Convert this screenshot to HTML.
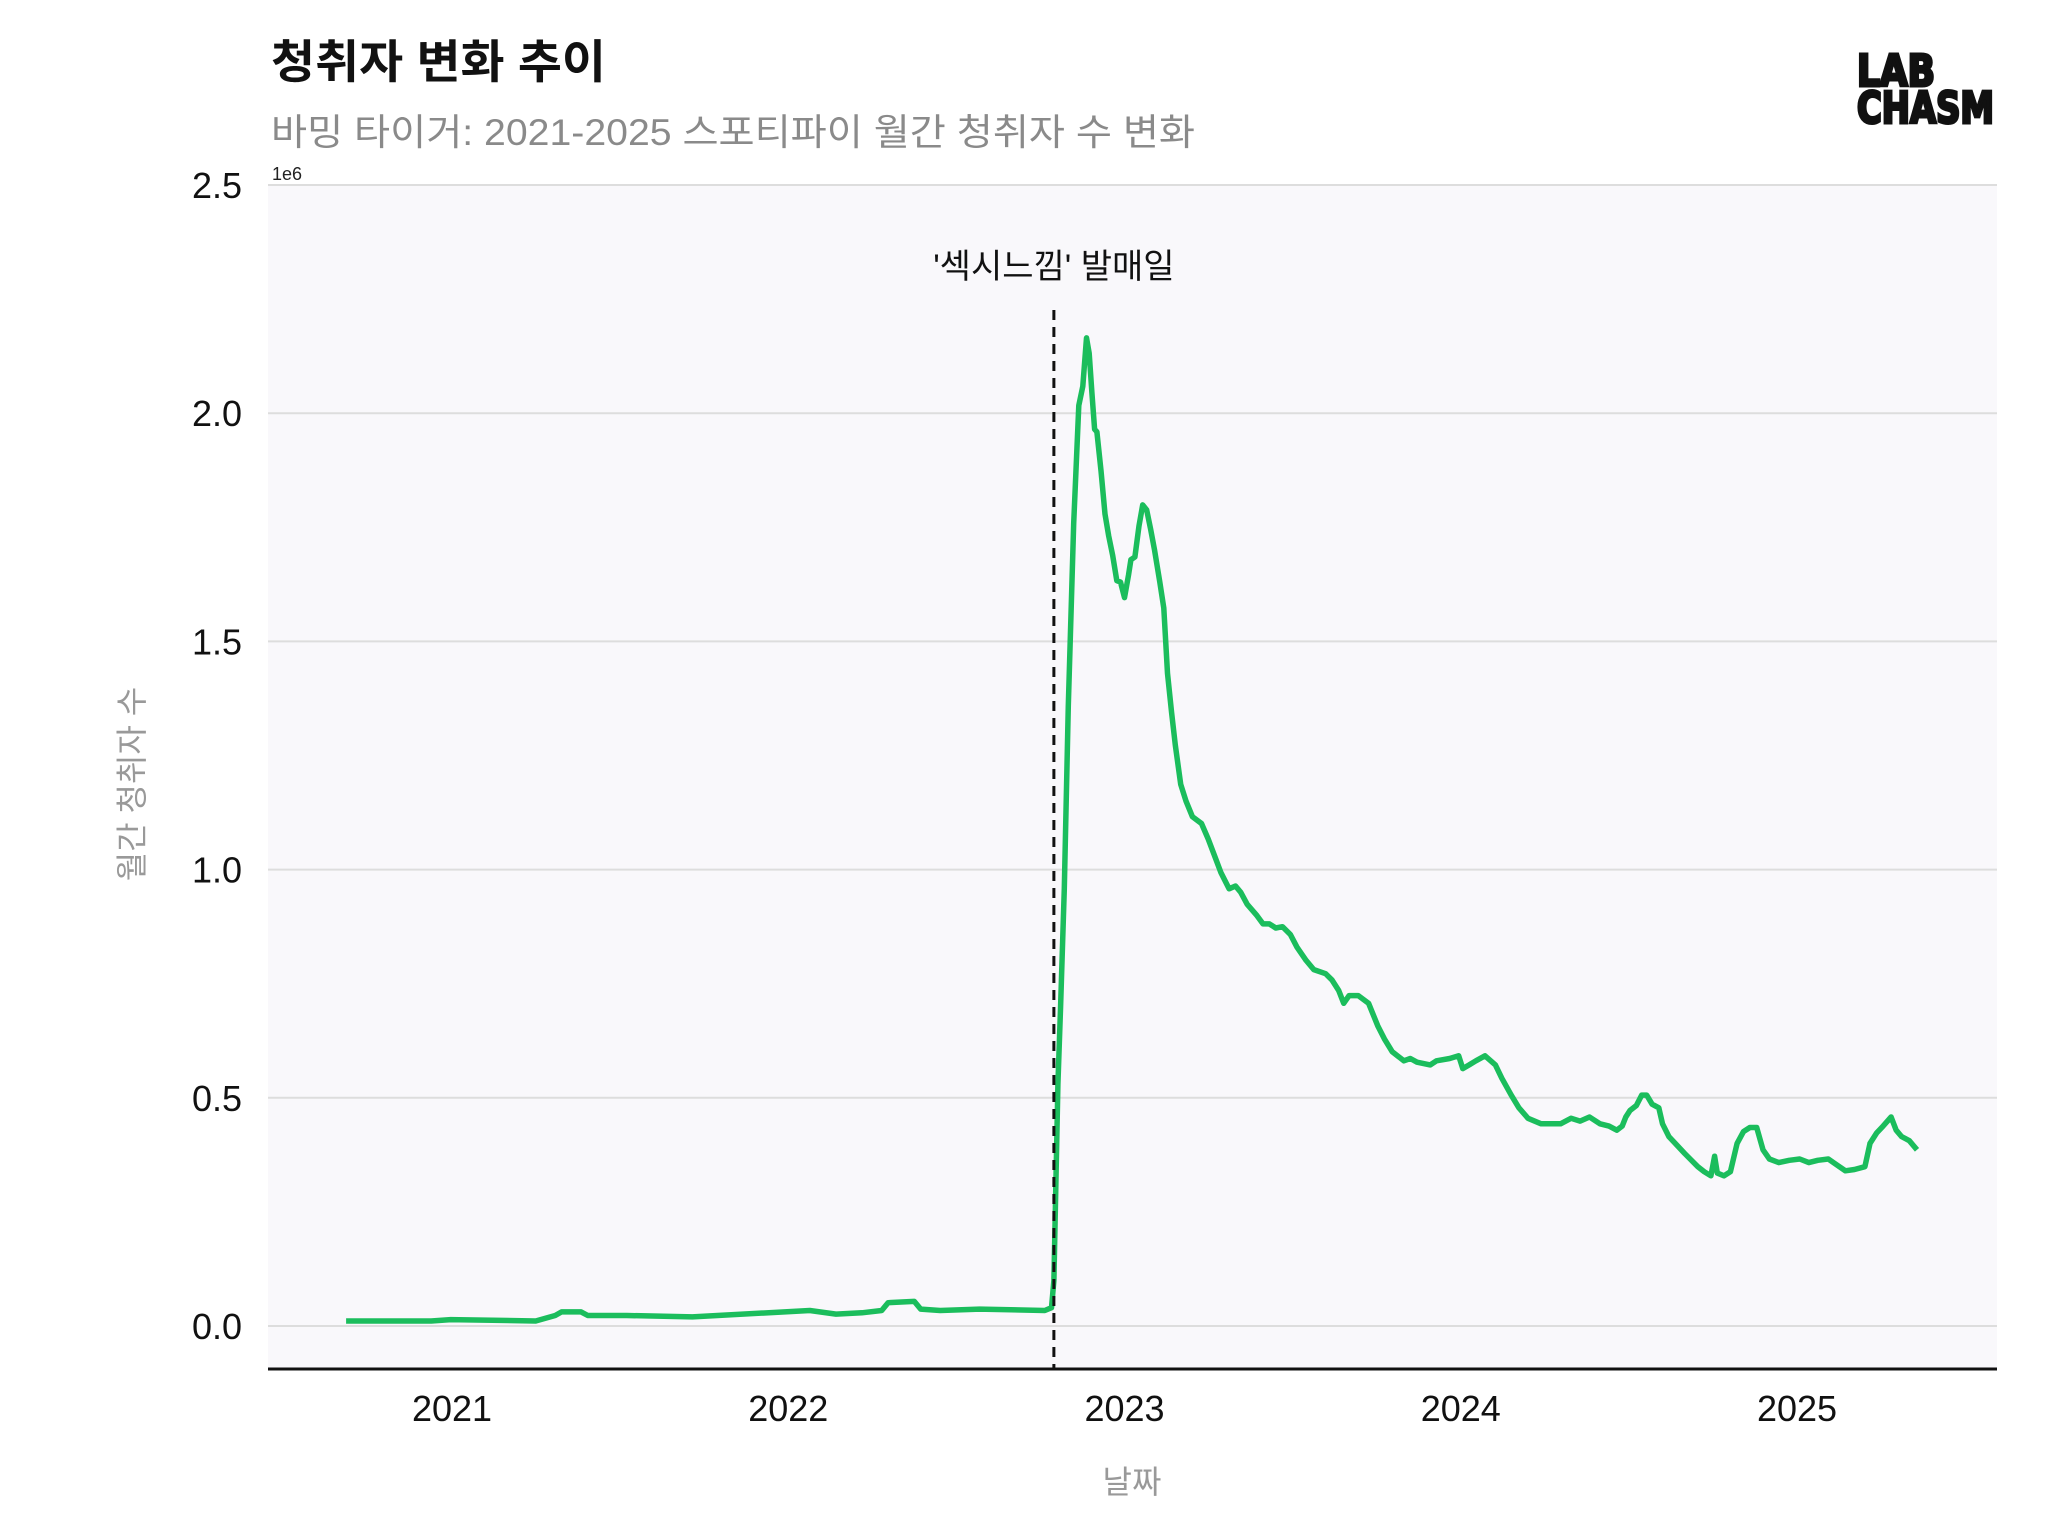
<!DOCTYPE html>
<html><head><meta charset="utf-8"><style>
html,body{margin:0;padding:0;background:#fff;}
svg{display:block;font-family:"Liberation Sans","Noto Sans CJK KR",sans-serif;}
</style></head><body>
<svg id="chart" width="2048" height="1536" viewBox="0 0 2048 1536">
<text x="271" y="78" font-size="46" font-weight="bold" fill="#111" textLength="335" lengthAdjust="spacingAndGlyphs">청취자 변화 추이</text>
<text x="271" y="145" font-size="37" fill="#8a8a8a" textLength="924" lengthAdjust="spacingAndGlyphs">바밍 타이거: 2021-2025 스포티파이 월간 청취자 수 변화</text>
<g font-weight="900" fill="#111" stroke="#111" stroke-width="3" font-family="'DejaVu Sans Condensed','DejaVu Sans',sans-serif">
<text x="1857" y="86" font-size="44" textLength="78" lengthAdjust="spacingAndGlyphs">LAB</text>
<text x="1857" y="123" font-size="44" textLength="137" lengthAdjust="spacingAndGlyphs">CHASM</text>
</g>
<rect x="268" y="185" width="1729" height="1184" fill="#f9f8fb"/>
<g id="grid"></g>
<g id="yticks"></g>
<g id="xticks"></g>
<text x="272" y="180" font-size="18" fill="#222">1e6</text>
<line x1="268" y1="1369" x2="1997" y2="1369" stroke="#111" stroke-width="3"/>
<path id="series" fill="none" stroke="#1bbd5c" stroke-width="5.5" stroke-linejoin="round"/>
<line id="release" y1="310" y2="1369" stroke="#111" stroke-width="3" stroke-dasharray="10,7"/>
<text id="releaseLabel" y="278" font-size="34" fill="#111" text-anchor="middle">'섹시느낌' 발매일</text>
<text x="143" y="784" font-size="32" fill="#999" text-anchor="middle" transform="rotate(-90 143 784)">월간 청취자 수</text>
<text x="1132" y="1493" font-size="32" fill="#999" text-anchor="middle">날짜</text>
</svg>
<script>
const yTicks=[0,0.5,1.0,1.5,2.0,2.5];
const yTickLabels=["0.0","0.5","1.0","1.5","2.0","2.5"];
const xTicks=[2021,2022,2023,2024,2025];
const releaseDate=2022.79;
const dates=[2020.685,2020.938,2020.996,2021.249,2021.307,2021.326,2021.384,2021.404,2021.520,2021.715,2022.064,2022.142,2022.219,2022.278,2022.297,2022.375,2022.394,2022.452,2022.569,2022.763,2022.783,2022.790,2022.802,2022.810,2022.821,2022.833,2022.849,2022.864,2022.876,2022.887,2022.895,2022.903,2022.911,2022.918,2022.930,2022.942,2022.953,2022.965,2022.977,2022.988,2023.000,2023.012,2023.019,2023.031,2023.043,2023.054,2023.066,2023.078,2023.089,2023.105,2023.117,2023.128,2023.140,2023.151,2023.167,2023.183,2023.202,2023.229,2023.249,2023.268,2023.287,2023.311,2023.330,2023.346,2023.365,2023.392,2023.412,2023.431,2023.450,2023.470,2023.493,2023.513,2023.540,2023.563,2023.598,2023.617,2023.637,2023.652,2023.668,2023.695,2023.726,2023.753,2023.773,2023.796,2023.831,2023.850,2023.870,2023.909,2023.928,2023.967,2023.994,2024.006,2024.025,2024.045,2024.072,2024.103,2024.122,2024.150,2024.173,2024.200,2024.239,2024.297,2024.328,2024.355,2024.383,2024.414,2024.441,2024.464,2024.480,2024.491,2024.503,2024.522,2024.538,2024.553,2024.569,2024.589,2024.600,2024.619,2024.666,2024.705,2024.724,2024.744,2024.755,2024.763,2024.783,2024.802,2024.822,2024.841,2024.860,2024.880,2024.899,2024.918,2024.946,2024.977,2025.008,2025.035,2025.062,2025.093,2025.120,2025.144,2025.171,2025.202,2025.217,2025.237,2025.256,2025.280,2025.295,2025.311,2025.334,2025.357];
const listeners=[0.011,0.011,0.014,0.011,0.023,0.031,0.031,0.023,0.023,0.020,0.034,0.026,0.029,0.034,0.051,0.054,0.037,0.034,0.037,0.034,0.040,0.100,0.529,0.701,0.958,1.359,1.759,2.017,2.059,2.165,2.131,2.045,1.965,1.959,1.874,1.779,1.731,1.688,1.633,1.630,1.596,1.645,1.679,1.685,1.753,1.799,1.788,1.745,1.702,1.630,1.573,1.430,1.344,1.273,1.187,1.150,1.116,1.101,1.067,1.030,0.993,0.958,0.964,0.950,0.924,0.901,0.881,0.881,0.872,0.875,0.858,0.830,0.801,0.781,0.772,0.758,0.735,0.707,0.724,0.724,0.707,0.658,0.629,0.601,0.581,0.586,0.578,0.572,0.581,0.586,0.592,0.564,0.572,0.581,0.592,0.572,0.543,0.506,0.478,0.455,0.443,0.443,0.455,0.449,0.458,0.443,0.438,0.429,0.438,0.458,0.472,0.483,0.506,0.506,0.486,0.478,0.443,0.415,0.378,0.349,0.338,0.329,0.372,0.335,0.329,0.338,0.400,0.426,0.435,0.435,0.386,0.366,0.358,0.363,0.366,0.358,0.363,0.366,0.352,0.340,0.343,0.349,0.400,0.423,0.438,0.458,0.429,0.415,0.406,0.386];
const NS="http://www.w3.org/2000/svg";
function xScale(t){return 452+(t-2021)*336.25;}
function yScale(v){return 1326-v*456.4;}
const grid=document.getElementById('grid'),yt=document.getElementById('yticks'),xt=document.getElementById('xticks');
yTicks.forEach((v,i)=>{
  const l=document.createElementNS(NS,'line');
  l.setAttribute('x1',268);l.setAttribute('x2',1997);
  l.setAttribute('y1',yScale(v));l.setAttribute('y2',yScale(v));
  l.setAttribute('stroke','#dddddd');l.setAttribute('stroke-width','2');
  
  
  grid.appendChild(l);
  const t=document.createElementNS(NS,'text');
  t.setAttribute('x',242);t.setAttribute('y',yScale(v)+13);
  t.setAttribute('text-anchor','end');t.setAttribute('font-size','36');t.setAttribute('fill','#111');
  t.textContent=yTickLabels[i];
  
  
  yt.appendChild(t);
});
xTicks.forEach(v=>{
  const t=document.createElementNS(NS,'text');
  t.setAttribute('x',xScale(v));t.setAttribute('y',1421);
  t.setAttribute('text-anchor','middle');t.setAttribute('font-size','36');t.setAttribute('fill','#111');
  t.textContent=String(v);
  
  
  xt.appendChild(t);
});
document.getElementById('series').setAttribute('d',dates.map((d,i)=>(i?'L':'M')+xScale(d).toFixed(1)+','+yScale(listeners[i]).toFixed(1)).join(' '));
const rx=xScale(releaseDate);
const rl=document.getElementById('release');rl.setAttribute('x1',rx);rl.setAttribute('x2',rx);
document.getElementById('releaseLabel').setAttribute('x',rx);
</script>
</body></html>
